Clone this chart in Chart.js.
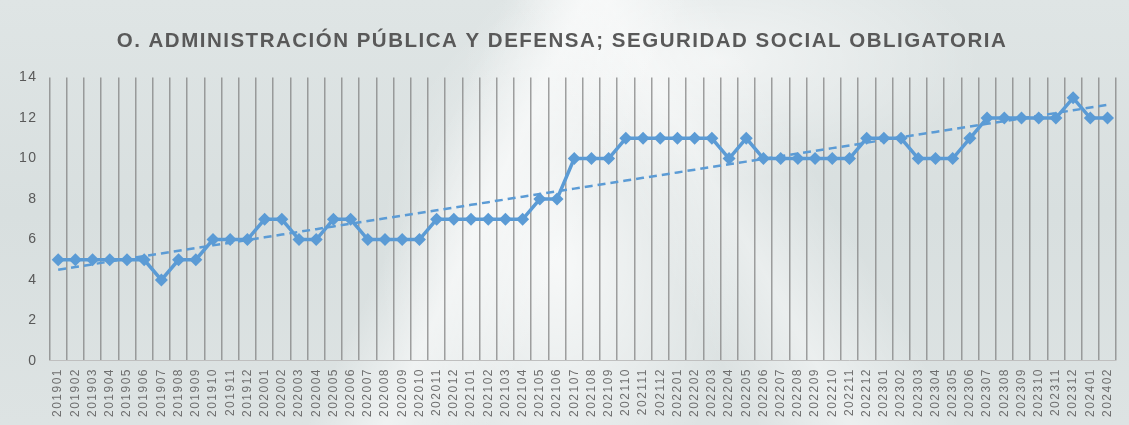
<!DOCTYPE html>
<html>
<head>
<meta charset="utf-8">
<script src="https://cdn.jsdelivr.net/npm/chart.js@4.4.1/dist/chart.umd.min.js"></script>
<style>
  html, body { margin: 0; padding: 0; }
  body {
    width: 1129px; height: 425px; overflow: hidden;
    background:
      linear-gradient(115deg, rgba(255,255,255,0) 38%, rgba(255,255,255,0.55) 44%, rgba(255,255,255,0) 52%),
      linear-gradient(60deg, rgba(255,255,255,0) 55%, rgba(255,255,255,0.45) 62%, rgba(255,255,255,0) 70%),
      radial-gradient(ellipse 180px 260px at 560px 260px, rgba(255,255,255,0.8), rgba(255,255,255,0) 100%),
      radial-gradient(ellipse 260px 120px at 720px 60px, rgba(255,255,255,0.6), rgba(255,255,255,0) 100%),
      linear-gradient(180deg, #dfe5e5 0%, #d8dfdf 50%, #dde3e3 100%);
  }
  #wrap { position: absolute; left: 0; top: 0; width: 1129px; height: 425px; }
</style>
</head>
<body>
<div id="wrap"><canvas id="chart"></canvas></div>
<script>
const periods = [
  '201901','201902','201903','201904','201905','201906','201907','201908','201909','201910','201911','201912',
  '202001','202002','202003','202004','202005','202006','202007','202008','202009','202010','202011','202012',
  '202101','202102','202103','202104','202105','202106','202107','202108','202109','202110','202111','202112',
  '202201','202202','202203','202204','202205','202206','202207','202208','202209','202210','202211','202212',
  '202301','202302','202303','202304','202305','202306','202307','202308','202309','202310','202311','202312',
  '202401','202402'
];

const values = [
  5, 5, 5, 5, 5, 5, 4, 5, 5, 6, 6, 6,
  7, 7, 6, 6, 7, 7, 6, 6, 6, 6, 7, 7,
  7, 7, 7, 7, 8, 8, 10, 10, 10, 11, 11, 11,
  11, 11, 11, 10, 11, 10, 10, 10, 10, 10, 10, 11,
  11, 11, 10, 10, 10, 11, 12, 12, 12, 12, 12, 13,
  12, 12
];

const yTicks = [0, 2, 4, 6, 8, 10, 12, 14];

// least-squares trend over the monthly values
function linearTrend(ys) {
  const n = ys.length;
  let sx = 0, sy = 0, sxy = 0, sxx = 0;
  ys.forEach((y, i) => { sx += i; sy += y; sxy += i * y; sxx += i * i; });
  const slope = (n * sxy - sx * sy) / (n * sxx - sx * sx);
  const icpt = (sy - slope * sx) / n;
  return ys.map((_, i) => icpt + slope * i);
}
const trend = linearTrend(values);

const BLUE = '#5b9bd5';
const GREY = '#595959';

// spaced lettering for all canvas text
const spacing = {
  id: 'spacing',
  beforeUpdate(chart) { chart.ctx.letterSpacing = '1.5px'; },
  beforeDraw(chart) { chart.ctx.letterSpacing = '1.5px'; }
};

const ctx = document.getElementById('chart').getContext('2d');
new Chart(ctx, {
  type: 'line',
  data: {
    labels: periods,
    datasets: [{
      label: 'valor',
      data: values,
      borderColor: BLUE,
      backgroundColor: BLUE,
      borderWidth: 3.5,
      pointStyle: 'rectRot',
      pointRadius: 6.5,
      pointBorderWidth: 0,
      tension: 0,
      order: 1
    }, {
      label: 'tendencia',
      data: trend,
      borderColor: BLUE,
      borderWidth: 2.5,
      borderDash: [8, 5],
      pointRadius: 0,
      tension: 0,
      order: 2
    }]
  },
  options: {
    responsive: true,
    maintainAspectRatio: false,
    animation: false,
    layout: { padding: { left: 7, right: 12, bottom: 1 } },
    plugins: {
      legend: { display: false },
      tooltip: { enabled: false },
      title: {
        display: true,
        text: 'O. ADMINISTRACIÓN PÚBLICA Y DEFENSA; SEGURIDAD SOCIAL OBLIGATORIA',
        color: GREY,
        font: { family: 'Liberation Sans, Arial, sans-serif', size: 20.5, weight: 'bold' },
        padding: { top: 29, bottom: 24 }
      }
    },
    scales: {
      x: {
        offset: true,
        grid: { offset: true, color: 'rgba(130,130,130,0.75)', lineWidth: 1.5, drawTicks: false },
        border: { color: '#bfbfbf', width: 1 },
        ticks: {
          autoSkip: false,
          minRotation: 90,
          maxRotation: 90,
          padding: 7,
          color: '#6f6f6f',
          font: { family: 'Liberation Sans, Arial, sans-serif', size: 12 }
        }
      },
      y: {
        min: 0,
        max: 14,
        afterBuildTicks(axis) { axis.ticks = yTicks.map(v => ({ value: v })); },
        grid: { display: false, drawTicks: false },
        border: { display: false },
        ticks: {
          padding: 12,
          color: GREY,
          font: { family: 'Liberation Sans, Arial, sans-serif', size: 14 }
        }
      }
    }
  },
  plugins: [spacing]
});
</script>
</body>
</html>
